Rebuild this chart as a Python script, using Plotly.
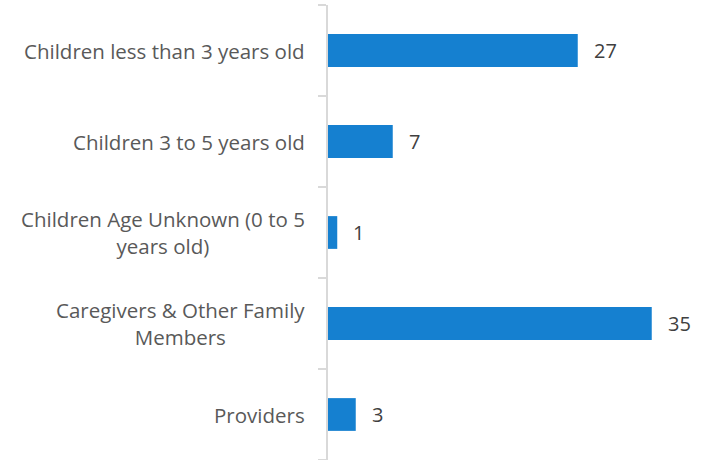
import plotly.graph_objects as go

categorias = [
    "Children less than 3 years old",
    "Children 3 to 5 years old",
    "Children Age Unknown (0 to 5<br>years old)",
    "Caregivers & Other Family<br>Members",
    "Providers",
]
valores = [27, 7, 1, 35, 3]

azul = "#1580d0"
gris = "#d9d9d9"

fig = go.Figure(
    go.Bar(
        x=valores,
        y=categorias,
        orientation="h",
        marker=dict(color=azul, line=dict(width=0)),
        hoverinfo="skip",
    )
)

anotaciones = []
for cat, val in zip(categorias, valores):
    # etiqueta de categoria (centrada en varias lineas)
    anotaciones.append(dict(
        x=0, xref="paper", y=cat, yref="y",
        text=cat, showarrow=False, xanchor="right", align="center",
        xshift=-21, font=dict(size=20.5, color="#595959"),
    ))
    # etiqueta de valor
    anotaciones.append(dict(
        x=val, xref="x", y=cat, yref="y",
        text=str(val), showarrow=False, xanchor="left",
        xshift=14, font=dict(size=20, color="#404040"),
    ))

fig.update_layout(
    width=709,
    height=460,
    margin=dict(l=328, r=11, t=5, b=0),
    paper_bgcolor="white",
    plot_bgcolor="white",
    font=dict(family="Open Sans, sans-serif"),
    bargap=0.64,
    showlegend=False,
    annotations=anotaciones,
    xaxis=dict(range=[0, 40], visible=False, fixedrange=True),
    yaxis=dict(
        categoryorder="array",
        categoryarray=categorias[::-1],
        showticklabels=False,
        showline=True,
        linecolor=gris,
        linewidth=2,
        ticks="outside",
        ticklen=8,
        tickcolor=gris,
        tickwidth=1.5,
        tickson="boundaries",
        showgrid=False,
        zeroline=False,
        fixedrange=True,
    ),
)

# quitar el margen del body para que el grafico quede en 0,0
fig.write_html(
    "out.html",
    config={"displayModeBar": False},
    post_script="document.body.style.margin='0';",
)
